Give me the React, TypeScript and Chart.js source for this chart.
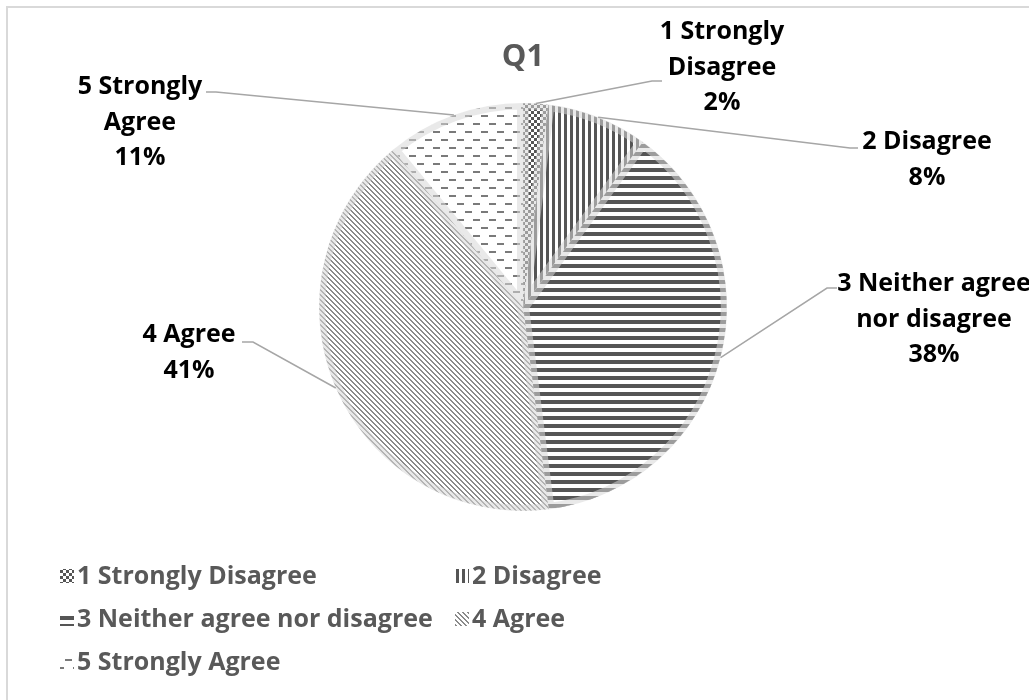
import React, { useEffect, useRef } from "react";
import { Chart, registerables } from "chart.js";

Chart.register(...registerables);

// ---- data ----
const TITLE = "Q1";
const CATEGORIES = [
  "1 Strongly Disagree",
  "2 Disagree",
  "3 Neither agree nor disagree",
  "4 Agree",
  "5 Strongly Agree",
];
const VALUES = [2, 8, 38, 41, 11];
const LABEL_LINES = [
  ["1 Strongly", "Disagree"],
  ["2 Disagree"],
  ["3 Neither agree", "nor disagree"],
  ["4 Agree"],
  ["5 Strongly", "Agree"],
];
const PATTERN_KINDS = ["checker", "vertical", "horizontal", "diagonal", "dashes"];

// ---- layout (positions, not data) ----
const LABEL_LAYOUT = [
  { tx: 722, ty: 32, elbow: [652, 81], end: [662, 81] },
  { tx: 927, ty: 142, elbow: [850, 148], end: [858, 148] },
  { tx: 934, ty: 284, elbow: [827, 288], end: [837, 288] },
  { tx: 189, ty: 335, elbow: [253, 342], end: [242, 342] },
  { tx: 140, ty: 87, elbow: [216, 92], end: [206, 92] },
];
const LEGEND_COLS = [60, 455];
const LEGEND_ROWS = [576, 619, 662];
const FONT = "'Open Sans', 'Noto Sans', sans-serif";
const DARK = "#555555";
const MID = "#7a7a7a";

function makePattern(kind: string): CanvasPattern {
  const c = document.createElement("canvas");
  const g = c.getContext("2d")!;
  const bg = (w: number, h: number) => {
    c.width = w;
    c.height = h;
    g.fillStyle = "#ffffff";
    g.fillRect(0, 0, w, h);
  };
  if (kind === "checker") {
    bg(6, 6);
    g.fillStyle = DARK;
    g.fillRect(0, 0, 3, 3);
    g.fillRect(3, 3, 3, 3);
  } else if (kind === "vertical") {
    bg(6, 6);
    g.fillStyle = DARK;
    g.fillRect(0, 0, 3, 6);
  } else if (kind === "horizontal") {
    bg(8, 8);
    g.fillStyle = DARK;
    g.fillRect(0, 0, 8, 4);
  } else if (kind === "diagonal") {
    bg(5, 5);
    g.fillStyle = "#8a8a8a";
    for (let i = 0; i < 5; i++) {
      g.fillRect(i, i, 1, 1);
      g.fillRect((i + 1) % 5, i, 1, 1);
    }
  } else {
    bg(16, 16);
    g.fillStyle = MID;
    g.fillRect(1, 3, 7, 2);
    g.fillRect(9, 11, 7, 2);
  }
  return g.createPattern(c, "repeat")!;
}

export default function App() {
  const ref = useRef<HTMLCanvasElement>(null);

  useEffect(() => {
    const canvas = ref.current!;
    const patterns = PATTERN_KINDS.map(makePattern);
    const total = VALUES.reduce((a, b) => a + b, 0);

    const overlay = {
      id: "overlay",
      afterDraw(chart: any) {
        const ctx = chart.ctx as CanvasRenderingContext2D;
        ctx.save();
        // chart frame
        ctx.strokeStyle = "#d9d9d9";
        ctx.lineWidth = 2;
        ctx.strokeRect(7, 7, 2000, 2000);

        // title
        ctx.fillStyle = "#595959";
        ctx.font = `bold 31px ${FONT}`;
        ctx.textAlign = "center";
        ctx.textBaseline = "middle";
        ctx.fillText(TITLE, 523, 57);

        // leader lines + labels
        const meta = chart.getDatasetMeta(0);
        meta.data.forEach((arc: any, i: number) => {
          const L = LABEL_LAYOUT[i];
          const mid = (arc.startAngle + arc.endAngle) / 2;
          const px = arc.x + Math.cos(mid) * arc.outerRadius;
          const py = arc.y + Math.sin(mid) * arc.outerRadius;
          ctx.strokeStyle = "#a6a6a6";
          ctx.lineWidth = 1.5;
          ctx.beginPath();
          ctx.moveTo(px, py);
          ctx.lineTo(L.elbow[0], L.elbow[1]);
          ctx.lineTo(L.end[0], L.end[1]);
          ctx.stroke();

          const lines = [...LABEL_LINES[i], Math.round((VALUES[i] / total) * 100) + "%"];
          ctx.fillStyle = "#000000";
          ctx.font = `bold 25px ${FONT}`;
          ctx.textAlign = "center";
          ctx.textBaseline = "middle";
          lines.forEach((t, k) => ctx.fillText(t, L.tx, L.ty + k * 35.5));
        });

        // legend
        ctx.font = `bold 25px ${FONT}`;
        ctx.textAlign = "left";
        ctx.textBaseline = "middle";
        CATEGORIES.forEach((name, i) => {
          const x = LEGEND_COLS[i % 2];
          const y = LEGEND_ROWS[Math.floor(i / 2)];
          ctx.fillStyle = patterns[i];
          ctx.fillRect(x, y - 7, 14, 14);
          ctx.fillStyle = "#595959";
          ctx.fillText(name, x + 17, y + 1);
        });
        ctx.restore();
      },
    };

    const chart = new Chart(canvas, {
      type: "pie",
      data: {
        labels: CATEGORIES,
        datasets: [
          {
            data: VALUES,
            backgroundColor: patterns as any,
            borderColor: "rgba(215,215,215,0.55)",
            borderWidth: 6,
            borderAlign: "inner",
            hoverOffset: 0,
            offset: 0,
          } as any,
        ],
      },
      options: {
        responsive: false,
        animation: false,
        devicePixelRatio: 1,
        events: [],
        layout: { padding: { left: 319, right: 302, top: 103, bottom: 189 } },
        plugins: {
          legend: { display: false },
          title: { display: false },
          tooltip: { enabled: false },
        },
      },
      plugins: [overlay],
    });
    return () => chart.destroy();
  }, []);

  return (
    <div style={{ position: "fixed", left: 0, top: 0, width: 1029, height: 700, background: "#ffffff", overflow: "hidden" }}>
      <canvas ref={ref} width={1029} height={700} style={{ display: "block" }} />
    </div>
  );
}
